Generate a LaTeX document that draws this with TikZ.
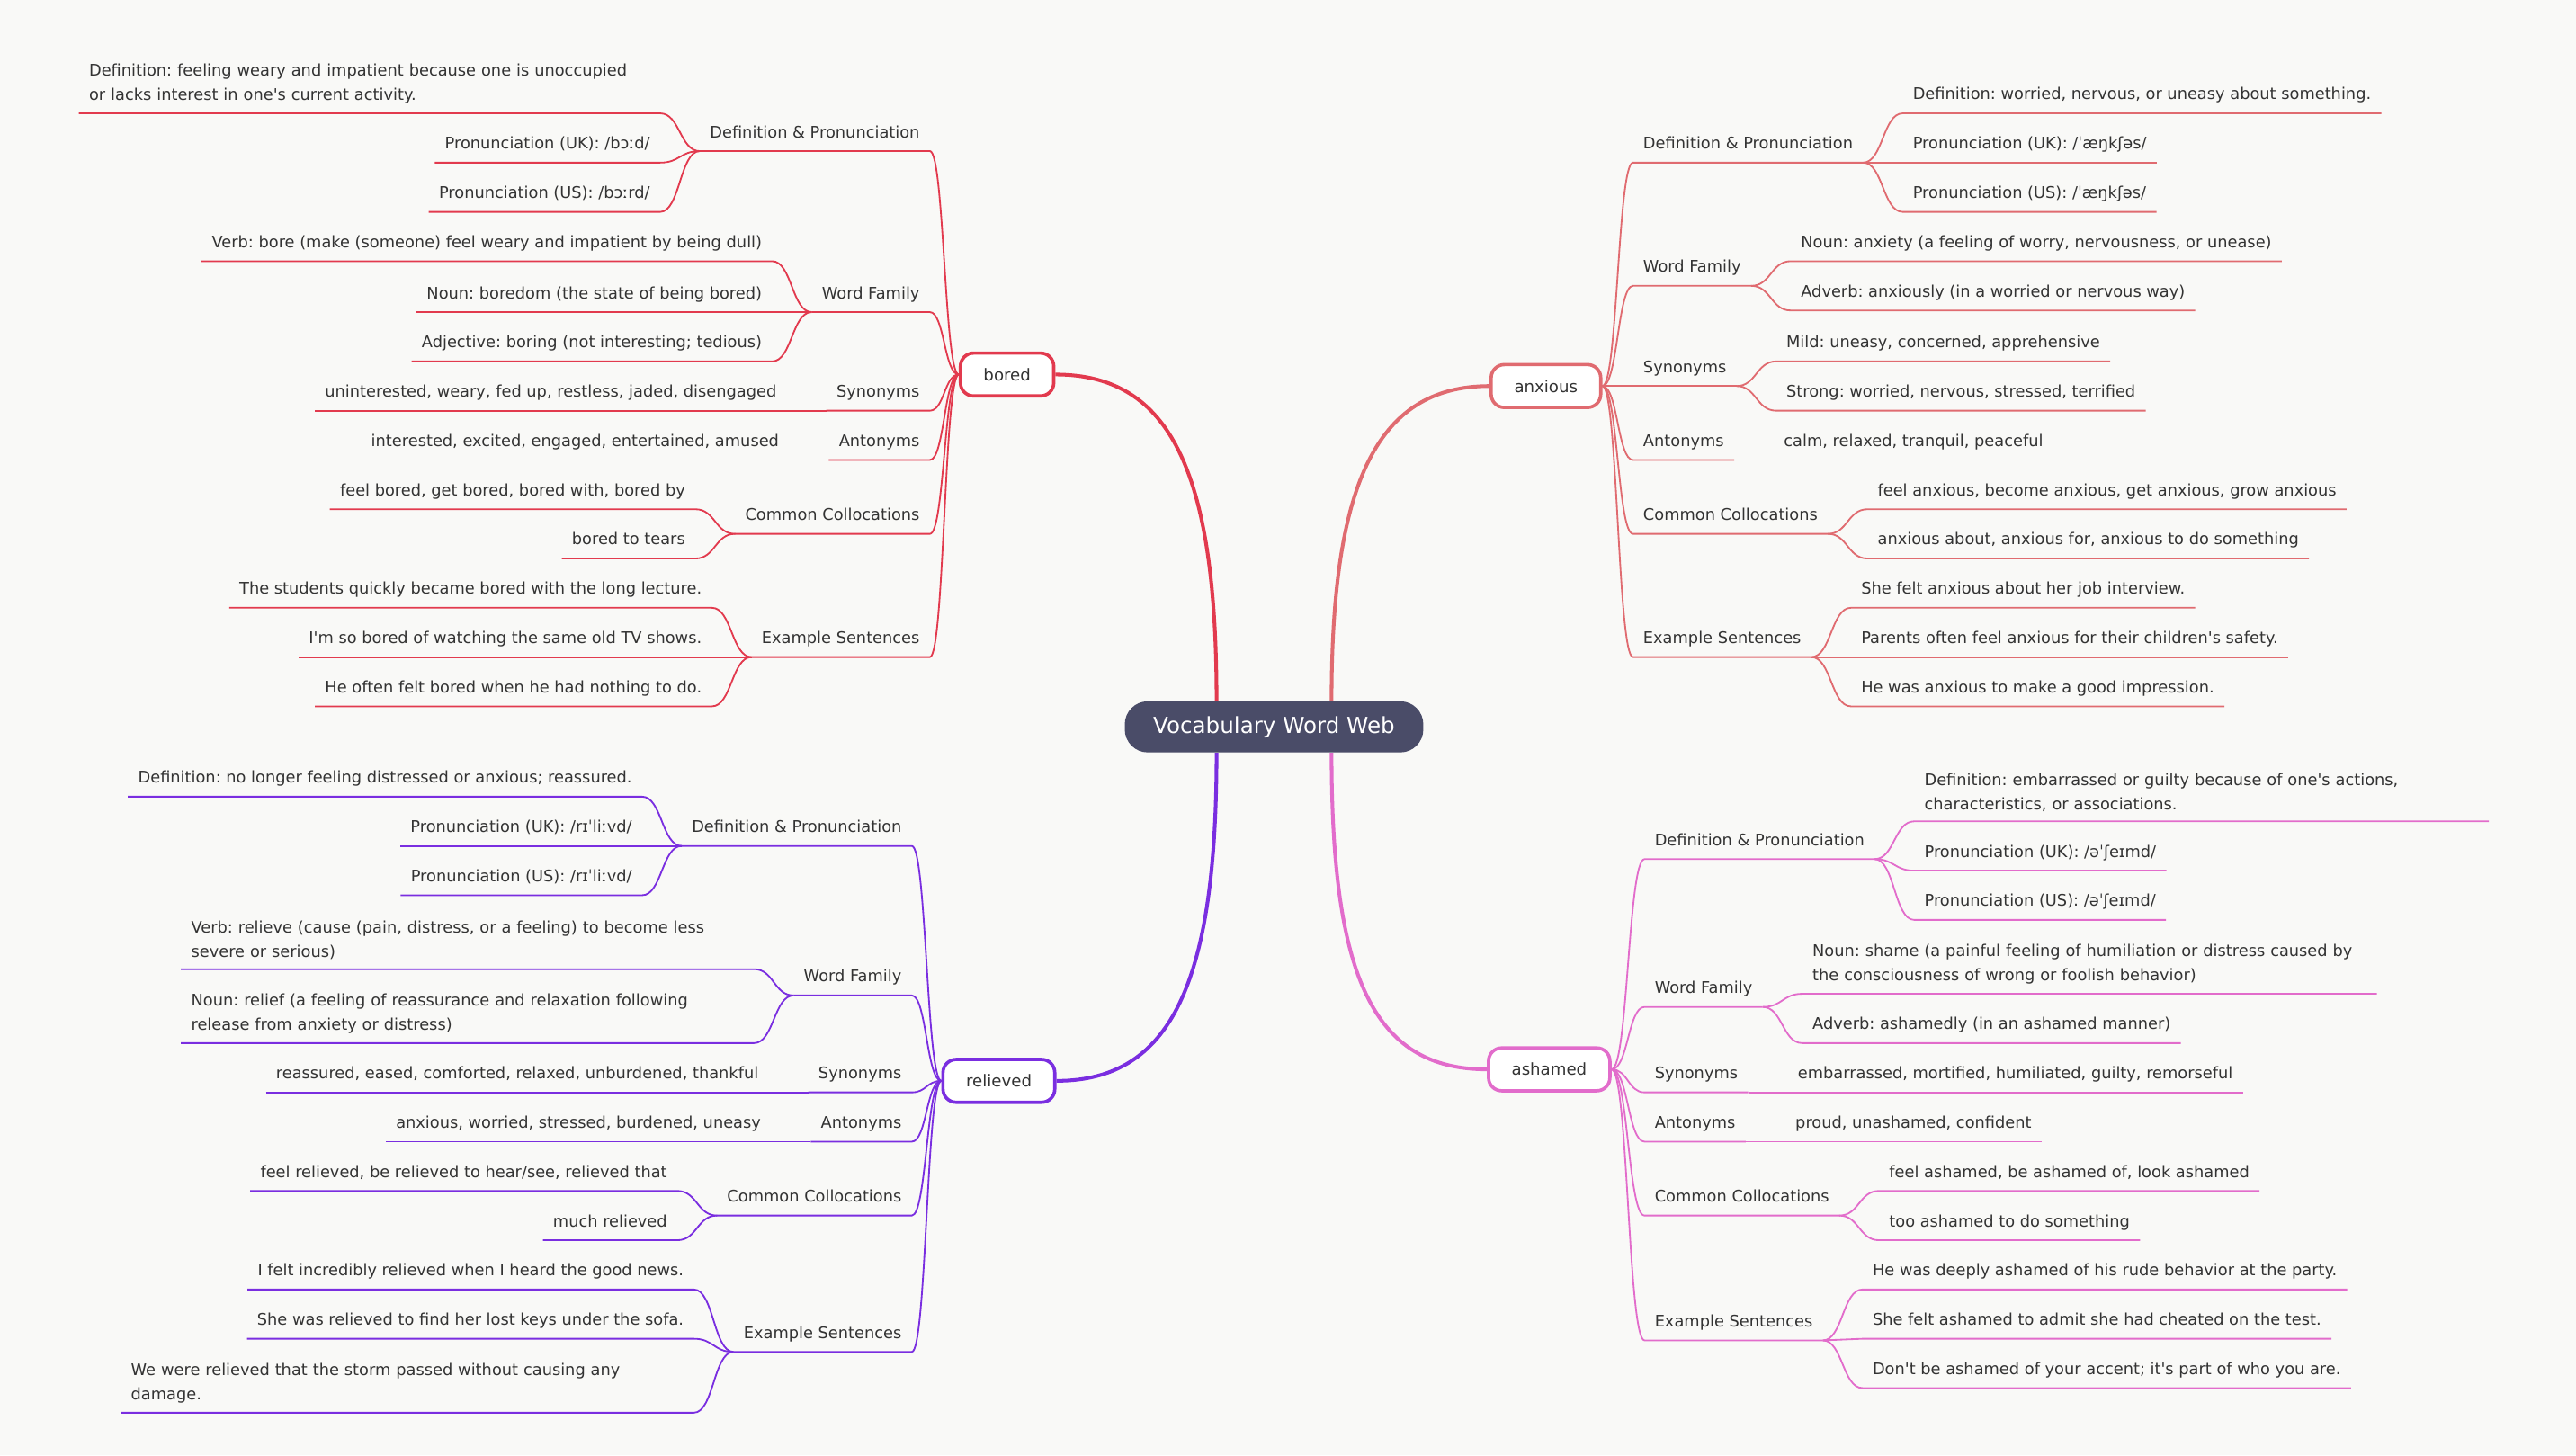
\documentclass[tikz,border=0pt]{standalone}
\usepackage{fontspec}
\setmainfont{DejaVu Sans}[Ligatures=TeXOff]
\frenchspacing
\usetikzlibrary{positioning,calc}
\definecolor{boredred}{HTML}{E23A4E}
\definecolor{anxred}{HTML}{E06B70}
\definecolor{relpurple}{HTML}{7A2EE0}
\definecolor{ashpink}{HTML}{E26CCB}
\definecolor{hubslate}{HTML}{4A4C68}
\definecolor{inkgray}{HTML}{333333}
\definecolor{paper}{HTML}{F9F9F7}
\pgfdeclarelayer{bg}
\pgfsetlayers{bg,main}
\tikzset{
  lbl/.style={inner xsep=6pt, inner ysep=5.5pt, font=\fontsize{9.7}{14.9}\selectfont, text=inkgray},
  catL/.style={lbl, text depth=2.5pt, anchor=south east},
  catR/.style={lbl, text depth=2.5pt, anchor=south west},
  leafL/.style={lbl, text depth=2.5pt, anchor=south east, xshift=-24pt},
  leafR/.style={lbl, text depth=2.5pt, anchor=south west, xshift=24pt},
  multiL/.style={lbl, anchor=south east, xshift=-24pt, align=left, text width=#1},
  multiR/.style={lbl, anchor=south west, xshift=24pt, align=left, text width=#1},
  topic/.style={line width=2pt, fill=white, rounded corners=8pt, minimum height=26pt, inner xsep=14pt, font=\fontsize{9.9}{12}\selectfont, text=inkgray},
  hub/.style={fill=hubslate, rounded corners=14pt, minimum height=31pt, minimum width=181pt, font=\fontsize{13.4}{16}\selectfont, text=white},
  hcurve/.style={to path={.. controls ($(\tikztostart)!0.5!(\tikztotarget |- \tikztostart)$) and ($(\tikztostart |- \tikztotarget)!0.5!(\tikztotarget)$) .. (\tikztotarget)}},
  trunk/.style={draw=#1, line width=2.2pt},
  twig/.style={draw=#1, line width=1pt}
}
\begin{document}
\begin{tikzpicture}[x=0.035cm, y=-0.035cm]
\useasboundingbox (0,0) rectangle (1568,886);

\node[hub] (hub) at (775.5,442.5) {Vocabulary Word Web};

% bored
\node[topic, draw=boredred] (bored) at (613,228) {bored};
\node[catL] (bdp) at (566,92) {Definition \& Pronunciation};
\node[catL] (bwf) at (566,190) {Word Family};
\node[catL] (bsy) at (566,250) {Synonyms};
\node[catL] (ban) at (566,280) {Antonyms};
\node[catL] (bco) at (566,325) {Common Collocations};
\node[catL] (bex) at (566,400) {Example Sentences};
\node[multiL=340pt] (bdp1) at (bdp.south west |- 0,69) {Definition: feeling weary and impatient because one is unoccupied\\or lacks interest in one's current activity.};
\node[leafL] (bdp2) at (bdp.south west |- 0,99) {Pronunciation (UK): /bɔːd/};
\node[leafL] (bdp3) at (bdp.south west |- 0,129) {Pronunciation (US): /bɔːrd/};
\node[leafL] (bwf1) at (bwf.south west |- 0,159) {Verb: bore (make (someone) feel weary and impatient by being dull)};
\node[leafL] (bwf2) at (bwf.south west |- 0,190) {Noun: boredom (the state of being bored)};
\node[leafL] (bwf3) at (bwf.south west |- 0,220) {Adjective: boring (not interesting; tedious)};
\node[leafL] (bsy1) at (bsy.south west) {uninterested, weary, fed up, restless, jaded, disengaged};
\node[leafL] (ban1) at (ban.south west) {interested, excited, engaged, entertained, amused};
\node[leafL] (bco1) at (bco.south west |- 0,310) {feel bored, get bored, bored with, bored by};
\node[leafL] (bco2) at (bco.south west |- 0,340) {bored to tears};
\node[leafL] (bex1) at (bex.south west |- 0,370) {The students quickly became bored with the long lecture.};
\node[leafL] (bex2) at (bex.south west |- 0,400) {I'm so bored of watching the same old TV shows.};
\node[leafL] (bex3) at (bex.south west |- 0,430) {He often felt bored when he had nothing to do.};

% anxious
\node[topic, draw=anxred] (anxious) at (941,235) {anxious};
\node[catR] (adp) at (994,99) {Definition \& Pronunciation};
\node[catR] (awf) at (994,174) {Word Family};
\node[catR] (asy) at (994,235) {Synonyms};
\node[catR] (aan) at (994,280) {Antonyms};
\node[catR] (aco) at (994,325) {Common Collocations};
\node[catR] (aex) at (994,400) {Example Sentences};
\node[leafR] (adp1) at (adp.south east |- 0,69) {Definition: worried, nervous, or uneasy about something.};
\node[leafR] (adp2) at (adp.south east |- 0,99) {Pronunciation (UK): /ˈæŋkʃəs/};
\node[leafR] (adp3) at (adp.south east |- 0,129) {Pronunciation (US): /ˈæŋkʃəs/};
\node[leafR] (awf1) at (awf.south east |- 0,159) {Noun: anxiety (a feeling of worry, nervousness, or unease)};
\node[leafR] (awf2) at (awf.south east |- 0,189) {Adverb: anxiously (in a worried or nervous way)};
\node[leafR] (asy1) at (asy.south east |- 0,220) {Mild: uneasy, concerned, apprehensive};
\node[leafR] (asy2) at (asy.south east |- 0,250) {Strong: worried, nervous, stressed, terrified};
\node[leafR] (aan1) at (aan.south east) {calm, relaxed, tranquil, peaceful};
\node[leafR] (aco1) at (aco.south east |- 0,310) {feel anxious, become anxious, get anxious, grow anxious};
\node[leafR] (aco2) at (aco.south east |- 0,340) {anxious about, anxious for, anxious to do something};
\node[leafR] (aex1) at (aex.south east |- 0,370) {She felt anxious about her job interview.};
\node[leafR] (aex2) at (aex.south east |- 0,400) {Parents often feel anxious for their children's safety.};
\node[leafR] (aex3) at (aex.south east |- 0,430) {He was anxious to make a good impression.};

% relieved
\node[topic, draw=relpurple] (relieved) at (608,658) {relieved};
\node[catL] (rdp) at (555,515) {Definition \& Pronunciation};
\node[catL] (rwf) at (555,606) {Word Family};
\node[catL] (rsy) at (555,665) {Synonyms};
\node[catL] (ran) at (555,695) {Antonyms};
\node[catL] (rco) at (555,740) {Common Collocations};
\node[catL] (rex) at (555,823) {Example Sentences};
\node[leafL] (rdp1) at (rdp.south west |- 0,485) {Definition: no longer feeling distressed or anxious; reassured.};
\node[leafL] (rdp2) at (rdp.south west |- 0,515) {Pronunciation (UK): /rɪˈliːvd/};
\node[leafL] (rdp3) at (rdp.south west |- 0,545) {Pronunciation (US): /rɪˈliːvd/};
\node[multiL=335pt] (rwf1) at (rwf.south west |- 0,590) {Verb: relieve (cause (pain, distress, or a feeling) to become less\\severe or serious)};
\node[multiL=335pt] (rwf2) at (rwf.south west |- 0,635) {Noun: relief (a feeling of reassurance and relaxation following\\release from anxiety or distress)};
\node[leafL] (rsy1) at (rsy.south west) {reassured, eased, comforted, relaxed, unburdened, thankful};
\node[leafL] (ran1) at (ran.south west) {anxious, worried, stressed, burdened, uneasy};
\node[leafL] (rco1) at (rco.south west |- 0,725) {feel relieved, be relieved to hear/see, relieved that};
\node[leafL] (rco2) at (rco.south west |- 0,755) {much relieved};
\node[leafL] (rex1) at (rex.south west |- 0,785) {I felt incredibly relieved when I heard the good news.};
\node[leafL] (rex2) at (rex.south west |- 0,815) {She was relieved to find her lost keys under the sofa.};
\node[multiL=335pt] (rex3) at (rex.south west |- 0,860) {We were relieved that the storm passed without causing any\\damage.};

% ashamed
\node[topic, draw=ashpink] (ashamed) at (943,651) {ashamed};
\node[catR] (sdp) at (1001,523) {Definition \& Pronunciation};
\node[catR] (swf) at (1001,613) {Word Family};
\node[catR] (ssy) at (1001,665) {Synonyms};
\node[catR] (san) at (1001,695) {Antonyms};
\node[catR] (sco) at (1001,740) {Common Collocations};
\node[catR] (sex) at (1001,816) {Example Sentences};
\node[multiR=336pt] (sdp1) at (sdp.south east |- 0,500) {Definition: embarrassed or guilty because of one's actions,\\characteristics, or associations.};
\node[leafR] (sdp2) at (sdp.south east |- 0,530) {Pronunciation (UK): /əˈʃeɪmd/};
\node[leafR] (sdp3) at (sdp.south east |- 0,560) {Pronunciation (US): /əˈʃeɪmd/};
\node[multiR=336pt] (swf1) at (swf.south east |- 0,605) {Noun: shame (a painful feeling of humiliation or distress caused by\\the consciousness of wrong or foolish behavior)};
\node[leafR] (swf2) at (swf.south east |- 0,635) {Adverb: ashamedly (in an ashamed manner)};
\node[leafR] (ssy1) at (ssy.south east) {embarrassed, mortified, humiliated, guilty, remorseful};
\node[leafR] (san1) at (san.south east) {proud, unashamed, confident};
\node[leafR] (sco1) at (sco.south east |- 0,725) {feel ashamed, be ashamed of, look ashamed};
\node[leafR] (sco2) at (sco.south east |- 0,755) {too ashamed to do something};
\node[leafR] (sex1) at (sex.south east |- 0,785) {He was deeply ashamed of his rude behavior at the party.};
\node[leafR] (sex2) at (sex.south east |- 0,815) {She felt ashamed to admit she had cheated on the test.};
\node[leafR] (sex3) at (sex.south east |- 0,845) {Don't be ashamed of your accent; it's part of who you are.};

\begin{pgfonlayer}{bg}
  \fill[paper] (0,0) rectangle (1568,886);
  \draw[trunk=boredred] ($(hub.north)+(-35,0)$) .. controls +(0,-140) and +(70,0) .. (bored.east);
  \draw[trunk=anxred] ($(hub.north)+(35,0)$) .. controls +(0,-130) and +(-70,0) .. (anxious.west);
  \draw[trunk=relpurple] ($(hub.south)+(-35,0)$) .. controls +(0,140) and +(70,0) .. (relieved.east);
  \draw[trunk=ashpink] ($(hub.south)+(35,0)$) .. controls +(0,135) and +(-70,0) .. (ashamed.west);
  % categories
  \foreach \c in {bdp,bwf,bsy,ban,bco,bex}
    \draw[twig=boredred] (\c.south west) -- (\c.south east) to[hcurve] (bored.west);
  \foreach \c in {rdp,rwf,rsy,ran,rco,rex}
    \draw[twig=relpurple] (\c.south west) -- (\c.south east) to[hcurve] (relieved.west);
  \foreach \c in {adp,awf,asy,aan,aco,aex}
    \draw[twig=anxred] (anxious.east) to[hcurve] (\c.south west) -- (\c.south east);
  \foreach \c in {sdp,swf,ssy,san,sco,sex}
    \draw[twig=ashpink] (ashamed.east) to[hcurve] (\c.south west) -- (\c.south east);
  % leaves
  \foreach \l/\c in {bdp1/bdp,bdp2/bdp,bdp3/bdp,bwf1/bwf,bwf2/bwf,bwf3/bwf,bsy1/bsy,ban1/ban,bco1/bco,bco2/bco,bex1/bex,bex2/bex,bex3/bex}
    \draw[twig=boredred] (\l.south west) -- (\l.south east) to[hcurve] (\c.south west);
  \foreach \l/\c in {rdp1/rdp,rdp2/rdp,rdp3/rdp,rwf1/rwf,rwf2/rwf,rsy1/rsy,ran1/ran,rco1/rco,rco2/rco,rex1/rex,rex2/rex,rex3/rex}
    \draw[twig=relpurple] (\l.south west) -- (\l.south east) to[hcurve] (\c.south west);
  \foreach \l/\c in {adp1/adp,adp2/adp,adp3/adp,awf1/awf,awf2/awf,asy1/asy,asy2/asy,aan1/aan,aco1/aco,aco2/aco,aex1/aex,aex2/aex,aex3/aex}
    \draw[twig=anxred] (\c.south east) to[hcurve] (\l.south west) -- (\l.south east);
  \foreach \l/\c in {sdp1/sdp,sdp2/sdp,sdp3/sdp,swf1/swf,swf2/swf,ssy1/ssy,san1/san,sco1/sco,sco2/sco,sex1/sex,sex2/sex,sex3/sex}
    \draw[twig=ashpink] (\c.south east) to[hcurve] (\l.south west) -- (\l.south east);
\end{pgfonlayer}
\end{tikzpicture}
\end{document}
